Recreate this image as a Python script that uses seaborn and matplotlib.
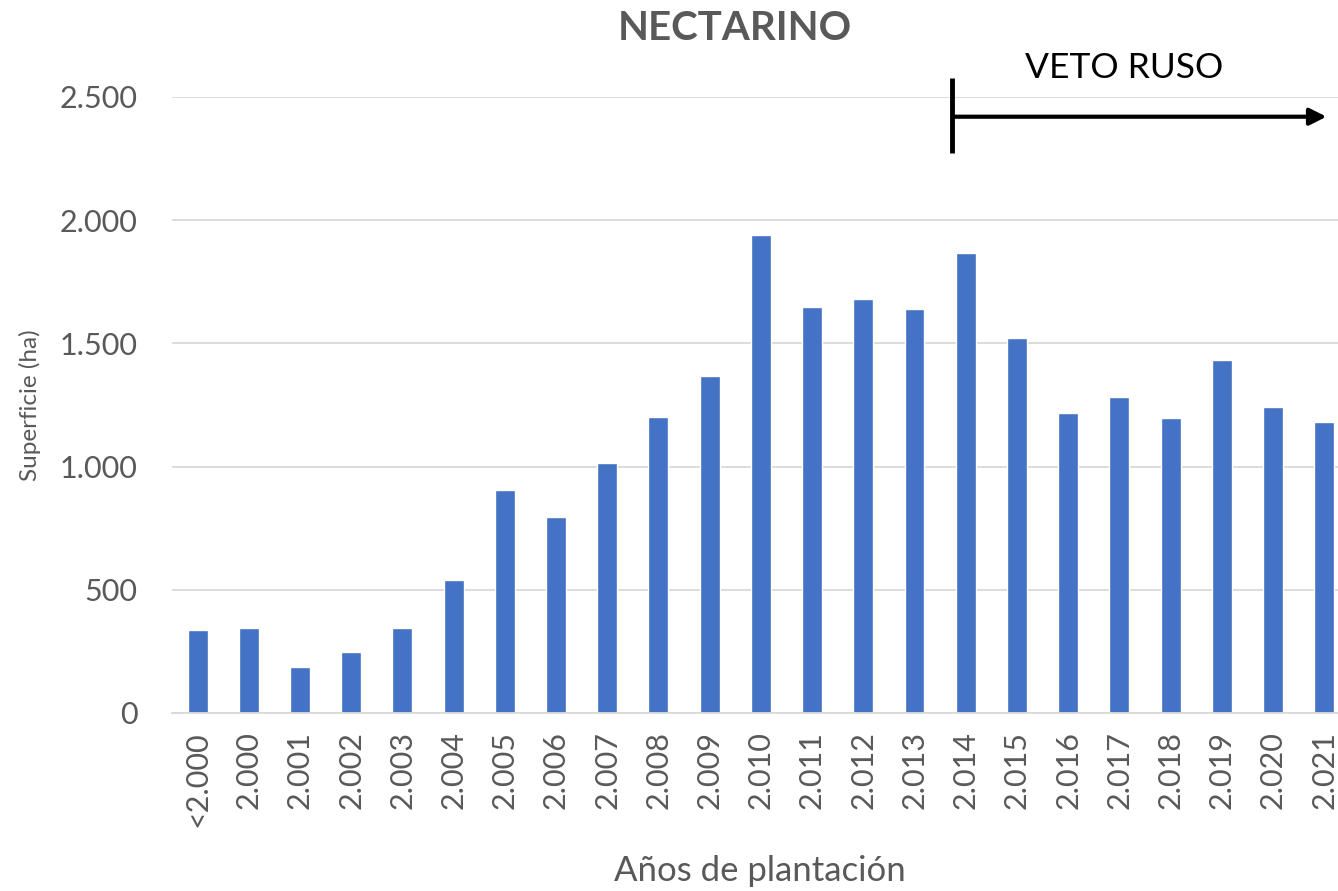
import matplotlib
matplotlib.use("Agg")
import matplotlib.pyplot as plt
from matplotlib.ticker import FuncFormatter
import seaborn as sns
import pandas as pd

# datos
anios = ["<2.000", "2.000", "2.001", "2.002", "2.003", "2.004", "2.005", "2.006",
         "2.007", "2.008", "2.009", "2.010", "2.011", "2.012", "2.013", "2.014",
         "2.015", "2.016", "2.017", "2.018", "2.019", "2.020", "2.021"]
superficie = [337, 346, 186, 247, 345, 538, 907, 794,
              1016, 1201, 1368, 1940, 1648, 1680, 1638, 1866,
              1520, 1219, 1281, 1197, 1432, 1240, 1181]

df = pd.DataFrame({"Anio": anios, "Superficie": superficie})

sns.set_theme(style="whitegrid")
plt.rcParams["font.family"] = ["Lato", "DejaVu Sans"]

gris = "#595959"
fig = plt.figure(figsize=(13.38, 8.91), dpi=100)
ax = fig.add_axes([172 / 1338, 1 - 713 / 891, (1338 - 172) / 1338, (713 - 97) / 891])

sns.barplot(data=df, x="Anio", y="Superficie", color="#4472C4", width=0.39,
            saturation=1, ax=ax)

ax.set_ylim(0, 2500)
ax.set_xlim(-0.5, 22.27)
ax.yaxis.set_major_formatter(FuncFormatter(lambda v, p: f"{int(v):,}".replace(",", ".")))
ax.set_yticks([0, 500, 1000, 1500, 2000, 2500])

ax.grid(axis="y", color="#d9d9d9", linewidth=1.3)
ax.grid(axis="x", visible=False)
for s in ["left", "right", "top"]:
    ax.spines[s].set_visible(False)
ax.spines["bottom"].set_color("#d9d9d9")
ax.spines["bottom"].set_linewidth(1.3)
ax.set_facecolor("white")

ax.tick_params(axis="y", length=0, pad=25, labelsize=22, labelcolor=gris)
ax.tick_params(axis="x", length=0, pad=13, labelsize=22, labelcolor=gris, rotation=90)

ax.set_xlabel("Años de plantación", fontsize=25, color=gris)
ax.xaxis.set_label_coords(0.504, -0.2305)
ax.set_ylabel("Superficie (ha)", fontsize=17.5, color=gris)
ax.yaxis.set_label_coords(-0.112, 0.5)

fig.text(735 / 1338, 1 - 28 / 891, "NECTARINO", fontsize=29, fontweight="bold",
         color=gris, ha="center", va="center")

# marca del veto ruso
ax.plot([14.73, 14.73], [2273, 2577], color="black", lw=3.5, clip_on=False,
        solid_capstyle="butt")
ax.annotate("", xy=(22.1, 2420), xytext=(14.73, 2420),
            arrowprops=dict(arrowstyle="-|>", color="black", lw=3, mutation_scale=25),
            annotation_clip=False)
ax.text(18.1, 2618, "VETO RUSO", fontsize=25.5, color="black", ha="center",
        va="center", clip_on=False)

fig.savefig("out.png", dpi=100, facecolor="white")
